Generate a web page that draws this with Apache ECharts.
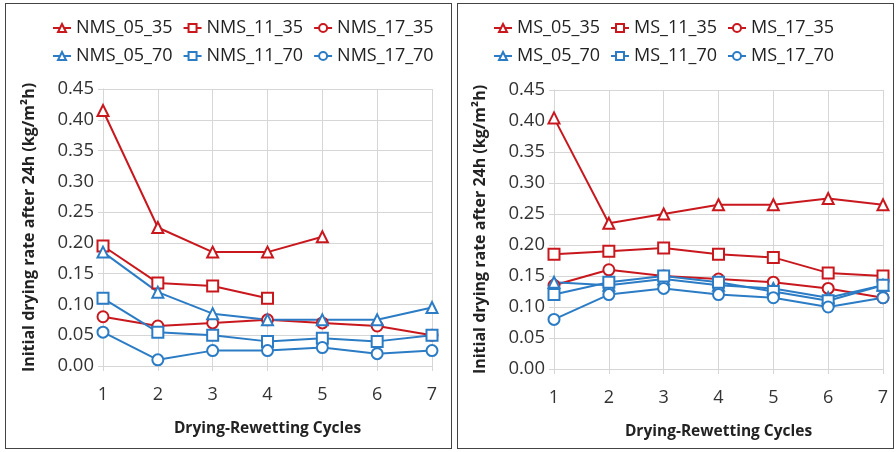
<!DOCTYPE html>
<html>
<head>
<meta charset="utf-8">
<script src="https://cdn.jsdelivr.net/npm/echarts@6/dist/echarts.min.js"></script>
<style>
  html, body { margin: 0; padding: 0; background: #fff; }
  .panel { position: absolute; top: 3px; height: 446px; border: 1.5px solid #444; box-sizing: border-box; }
  #left { left: 5px; width: 447px; }
  #right { left: 457px; width: 437px; }
</style>
</head>
<body>
<div id="left" class="panel"></div>
<div id="right" class="panel"></div>
<script>
// x axis: drying-rewetting cycles
const cycles = [1, 2, 3, 4, 5, 6, 7];
const yTicks = ['0.00', '0.05', '0.10', '0.15', '0.20', '0.25', '0.30', '0.35', '0.40', '0.45'];

// left panel (NMS)
const nmsNames = ['NMS_05_35', 'NMS_11_35', 'NMS_17_35', 'NMS_05_70', 'NMS_11_70', 'NMS_17_70'];
const nms05_35 = [0.415, 0.225, 0.185, 0.185, 0.21];
const nms11_35 = [0.195, 0.135, 0.13, 0.11];
const nms17_35 = [0.08, 0.065, 0.07, 0.075, 0.07, 0.065, 0.05];
const nms05_70 = [0.185, 0.12, 0.085, 0.075, 0.075, 0.075, 0.095];
const nms11_70 = [0.11, 0.055, 0.05, 0.04, 0.045, 0.04, 0.05];
const nms17_70 = [0.055, 0.01, 0.025, 0.025, 0.03, 0.02, 0.025];

// right panel (MS)
const msNames = ['MS_05_35', 'MS_11_35', 'MS_17_35', 'MS_05_70', 'MS_11_70', 'MS_17_70'];
const ms05_35 = [0.405, 0.235, 0.25, 0.265, 0.265, 0.275, 0.265];
const ms11_35 = [0.185, 0.19, 0.195, 0.185, 0.18, 0.155, 0.15];
const ms17_35 = [0.135, 0.16, 0.15, 0.145, 0.14, 0.13, 0.115];
const ms05_70 = [0.14, 0.135, 0.145, 0.135, 0.13, 0.115, 0.135];
const ms11_70 = [0.12, 0.14, 0.15, 0.14, 0.125, 0.11, 0.135];
const ms17_70 = [0.08, 0.12, 0.13, 0.12, 0.115, 0.10, 0.115];

const RED = '#c8181e';
const BLUE = '#2b7cc5';
const GRID = '#d6d6d6';
const FONT = 'Open Sans';
const symbols = ['emptyTriangle', 'emptyRect', 'emptyCircle', 'emptyTriangle', 'emptyRect', 'emptyCircle'];
const colors = [RED, RED, RED, BLUE, BLUE, BLUE];

function buildOption(names, values, grid, legendLeft, textW) {
  return {
    animation: false,
    textStyle: { fontFamily: FONT },
    legend: {
      left: legendLeft,
      top: 10,
      width: 3 * (18 + 5 + textW + 10) + 2,
      itemWidth: 18,
      itemHeight: 10,
      itemGap: 10,
      data: names,
      textStyle: { fontSize: 18, color: '#222', width: textW, fontFamily: FONT }
    },
    grid: grid,
    xAxis: {
      type: 'value',
      min: 1,
      max: 7,
      interval: 1,
      name: 'Drying-Rewetting Cycles',
      nameLocation: 'middle',
      nameGap: 55,
      nameTextStyle: { fontSize: 15.5, fontWeight: 'bold', color: '#222', fontFamily: FONT },
      axisLine: { lineStyle: { color: GRID } },
      axisTick: { show: true, length: 5, lineStyle: { color: GRID } },
      axisLabel: { fontSize: 18, color: '#333', margin: 20, fontFamily: FONT },
      splitLine: { show: true, lineStyle: { color: GRID } }
    },
    yAxis: {
      type: 'value',
      min: 0,
      max: 0.45,
      interval: 0.05,
      name: 'Initial drying rate after 24h (kg/m²h)',
      nameLocation: 'middle',
      nameGap: 66,
      nameTextStyle: { fontSize: 16, fontWeight: 'bold', color: '#222', fontFamily: FONT },
      axisLine: { show: true, lineStyle: { color: GRID } },
      axisTick: { show: true, length: 5, lineStyle: { color: GRID } },
      axisLabel: {
        fontSize: 18.5, color: '#333', margin: 9, fontFamily: FONT,
        formatter: v => yTicks[Math.round(v / 0.05)]
      },
      splitLine: { show: true, lineStyle: { color: GRID } }
    },
    series: values.map((vals, i) => ({
      name: names[i],
      type: 'line',
      data: vals.map((v, j) => [cycles[j], v]),
      symbol: symbols[i],
      symbolSize: 11,
      color: colors[i],
      lineStyle: { width: 2, color: colors[i] },
      itemStyle: { color: colors[i], borderWidth: 1.5 }
    }))
  };
}

const leftChart = echarts.init(document.getElementById('left'));
leftChart.setOption(buildOption(
  nmsNames,
  [nms05_35, nms11_35, nms17_35, nms05_70, nms11_70, nms17_70],
  { left: 97, right: 19, top: 85, bottom: 82 },
  41, 104
));

const rightChart = echarts.init(document.getElementById('right'));
rightChart.setOption(buildOption(
  msNames,
  [ms05_35, ms11_35, ms17_35, ms05_70, ms11_70, ms17_70],
  { left: 96, right: 10, top: 86, bottom: 79 },
  30, 107
));
</script>
</body>
</html>
